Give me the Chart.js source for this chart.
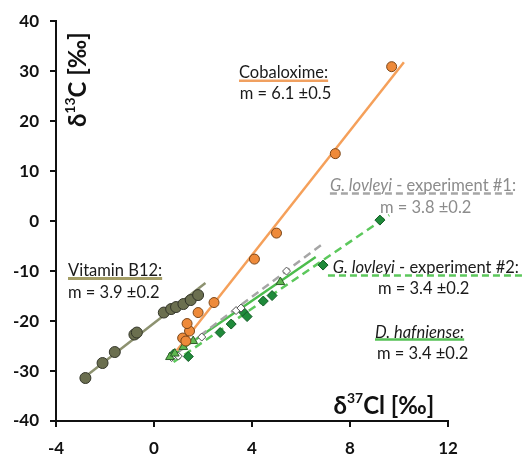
<!DOCTYPE html>
<html><head><meta charset="utf-8">
<script src="https://cdn.jsdelivr.net/npm/chart.js@4"></script>
<style>html,body{margin:0;padding:0;background:#fff;}#wrap{width:525px;height:457px;}</style>
</head><body><div id="wrap"><canvas id="c" width="525" height="457"></canvas></div>
<script>
// ---- axis ticks ----
const xTicks = [-4, 0, 4, 8, 12];
const yTicks = [-40, -30, -20, -10, 0, 10, 20, 30, 40];

// ---- Vitamin B12 ----
const b12X = [-2.8, -2.1, -1.6, -0.8, -0.7, 0.4, 0.7, 0.9, 1.2, 1.5, 1.8];
const b12Y = [-31.4, -28.4, -26.2, -22.7, -22.3, -18.3, -17.6, -17.2, -16.6, -15.8, -14.8];
const b12FitX = [-2.9, 2.1];
const b12FitY = [-31.5, -12.4];

// ---- Cobaloxime ----
const cobX = [1.17, 1.3, 1.45, 1.35, 1.8, 2.45, 4.1, 5.0, 7.4, 9.7];
const cobY = [-23.4, -24.0, -22.0, -20.5, -18.3, -16.3, -7.6, -2.4, 13.5, 30.9];
const cobFitX = [0.93, 10.2];
const cobFitY = [-25.9, 31.8];

// ---- G. lovleyi experiment #1 ----
const exp1X = [0.72, 0.99, 1.95, 3.35, 3.55, 5.41];
const exp1Y = [-27.3, -27.0, -23.2, -17.9, -17.4, -10.0];
const exp1FitX = [0.6, 6.9];
const exp1FitY = [-27.6, -4.5];

// ---- G. lovleyi experiment #2 ----
const exp2X = [0.8, 1.4, 2.7, 3.15, 3.65, 3.8, 4.46, 4.82, 6.9, 9.22];
const exp2Y = [-26.6, -27.1, -22.3, -20.6, -18.2, -19.1, -16.0, -14.9, -8.8, 0.2];
const exp2FitX = [0.8, 9.6];
const exp2FitY = [-28.2, 1.2];

// ---- D. hafniense ----
const hafX = [0.65, 0.85, 1.2, 1.6, 5.16];
const hafY = [-27.2, -26.5, -25.2, -24.0, -12.2];
const hafFitX = [0.6, 6.6];
const hafFitY = [-27.4, -7.2];

const pts = (xs, ys) => xs.map((v, i) => ({x: v, y: ys[i]}));

const FONT = 'Lato, "Open Sans", sans-serif';
const FS = 16.5;

const annot = {
  id: 'annot',
  afterDraw(chart) {
    const ctx = chart.ctx, x = chart.scales.x, y = chart.scales.y;
    const X = v => x.getPixelForValue(v), Y = v => y.getPixelForValue(v);
    ctx.save();
    ctx.textBaseline = 'middle';
    ctx.textAlign = 'left';
    function txt(parts, px, py, color) {
      let cx = px;
      parts.forEach(p => {
        ctx.font = (p.i ? 'italic ' : '') + FS + 'px ' + FONT;
        ctx.fillStyle = color;
        ctx.fillText(p.t, cx, py);
        cx += ctx.measureText(p.t).width;
      });
      return cx - px;
    }
    function uline(x0, x1, py, color, w, dash) {
      ctx.beginPath();
      ctx.setLineDash(dash || []);
      ctx.strokeStyle = color; ctx.lineWidth = w;
      ctx.moveTo(x0, py); ctx.lineTo(x1, py); ctx.stroke();
      ctx.setLineDash([]);
    }
    // Cobaloxime
    let w = txt([{t: 'Cobaloxime:'}], X(3.47), Y(29.7), '#1a1a1a');
    uline(X(3.47), X(3.47) + w, Y(28.1), '#f0a060', 2.5);
    txt([{t: 'm = 6.1 \u00b10.5'}], X(3.5), Y(25.5), '#1a1a1a');
    // Vitamin B12
    w = txt([{t: 'Vitamin B12:'}], X(-3.51), Y(-9.9), '#1a1a1a');
    uline(X(-3.51), X(-3.51) + w, Y(-11.5), '#a39d66', 3);
    txt([{t: 'm = 3.9 \u00b10.2'}], X(-3.51), Y(-14.3), '#1a1a1a');
    // G. lovleyi #1
    w = txt([{t: 'G. lovleyi', i: true}, {t: ' - experiment #1:'}], X(7.18), Y(7.1), '#8c8c8c');
    uline(X(7.18), X(7.18) + w, Y(5.5), '#a6a6a6', 2.5, [7, 4]);
    txt([{t: 'm = 3.8 \u00b10.2'}], X(9.22), Y(2.7), '#8c8c8c');
    // G. lovleyi #2
    w = txt([{t: 'G. lovleyi', i: true}, {t: ' - experiment #2:'}], X(7.3), Y(-9.3), '#1a1a1a');
    uline(X(7.1), chart.width, Y(-10.9), '#5cc85c', 2.5, [7, 4]);
    txt([{t: 'm = 3.4 \u00b10.2'}], X(9.14), Y(-13.5), '#1a1a1a');
    // D. hafniense
    w = txt([{t: 'D. hafniense:', i: true}], X(9.02), Y(-22.3), '#1a1a1a');
    uline(X(9.02), X(9.02) + w, Y(-23.7), '#55c055', 2.5);
    txt([{t: 'm = 3.4 \u00b10.2'}], X(9.1), Y(-26.5), '#1a1a1a');

    // axis titles
    function title(parts, px, py, size, center) {
      const sub = size * 0.58;
      let tot = 0;
      parts.forEach(p => { ctx.font = 'bold ' + (p.s ? sub : size) + 'px ' + FONT; tot += ctx.measureText(p.t).width; });
      let cx = center ? px - tot / 2 : px;
      parts.forEach(p => {
        ctx.font = 'bold ' + (p.s ? sub : size) + 'px ' + FONT;
        ctx.fillStyle = '#111';
        ctx.fillText(p.t, cx, p.s ? py - size * 0.33 : py);
        cx += ctx.measureText(p.t).width;
      });
    }
    title([{t: '\u03b4'}, {t: '37', s: true}, {t: 'Cl [\u2030]'}], X(7.33), Y(-37.1), 24, false);
    ctx.save();
    ctx.translate(X(-3.1), Y(28.3));
    ctx.rotate(-Math.PI / 2);
    title([{t: '\u03b4'}, {t: '13', s: true}, {t: 'C [\u2030]'}], 0, 0, 24, true);
    ctx.restore();
    ctx.restore();
  }
};

const lineDs = (xs, ys, color, dash) => ({
  data: pts(xs, ys), showLine: true, pointRadius: 0, borderColor: color,
  borderWidth: 2.5, borderDash: dash || [], order: 2, fill: false
});
const ptDs = (xs, ys, style, bg, bd, r) => ({
  data: pts(xs, ys), showLine: false, pointStyle: style, pointRadius: r,
  backgroundColor: bg, borderColor: bd, borderWidth: 1, order: 1
});

new Chart(document.getElementById('c'), {
  type: 'scatter',
  data: {
    datasets: [
      ptDs(b12X, b12Y, 'circle', '#6b6f4f', '#34362a', 5.5),
      ptDs(cobX, cobY, 'circle', '#ee8a3a', '#7a4518', 5),
      ptDs(hafX, hafY, 'triangle', '#5fb84f', '#2e5e2a', 5),
      ptDs(exp1X, exp1Y, 'rectRot', '#ffffff', '#555555', 4),
      ptDs(exp2X, exp2Y, 'rectRot', '#1f8a3a', '#145c26', 5),
      lineDs(b12FitX, b12FitY, '#8d9270'),
      lineDs(cobFitX, cobFitY, '#f5a05a'),
      lineDs(exp1FitX, exp1FitY, '#a6a6a6', [8, 5]),
      lineDs(exp2FitX, exp2FitY, '#5cc85c', [8, 5]),
      lineDs(hafFitX, hafFitY, '#4dbd4d')
    ]
  },
  options: {
    responsive: false,
    animation: false,
    devicePixelRatio: 1,
    layout: {padding: {top: 21, right: 77, left: 0, bottom: 0}},
    plugins: {legend: {display: false}, tooltip: {enabled: false}},
    scales: {
      x: {
        type: 'linear', min: -4, max: 12,
        afterBuildTicks: s => { s.ticks = xTicks.map(v => ({value: v})); },
        afterFit: s => { s.height = 36; },
        border: {display: true, color: '#111', width: 2},
        grid: {drawOnChartArea: false, drawTicks: true, tickLength: 6, color: '#111', lineWidth: 2},
        ticks: {color: '#111', font: {family: FONT, size: 17, weight: 'bold'}, padding: 11, maxRotation: 0}
      },
      y: {
        type: 'linear', min: -40, max: 40,
        afterBuildTicks: s => { s.ticks = yTicks.map(v => ({value: v})); },
        afterFit: s => { s.width = 56; },
        border: {display: true, color: '#111', width: 2},
        grid: {drawOnChartArea: false, drawTicks: true, tickLength: 6, color: '#111', lineWidth: 2},
        ticks: {color: '#111', font: {family: FONT, size: 17, weight: 'bold'}, padding: 11}
      }
    }
  },
  plugins: [annot]
});
</script>
</body></html>
